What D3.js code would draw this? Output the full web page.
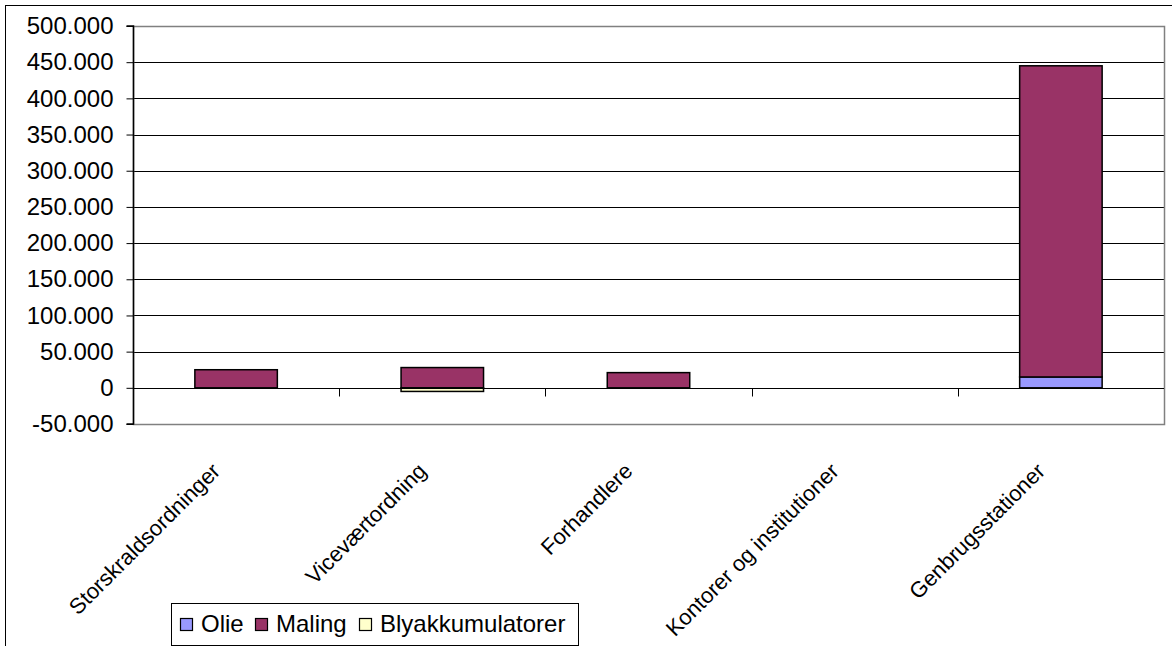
<!DOCTYPE html>
<html>
<head>
<meta charset="utf-8">
<script src="https://cdn.jsdelivr.net/npm/d3@7"></script>
<style>
  html, body { margin: 0; padding: 0; background: #fff; }
  svg { display: block; }
  text { font-family: "Liberation Sans", Arial, sans-serif; fill: #000; }
</style>
</head>
<body>
<svg id="chart" width="1172" height="646"></svg>
<script>
const categories = ["Storskraldsordninger", "Viceværtordning", "Forhandlere", "Kontorer og institutioner", "Genbrugsstationer"];
const seriesNames = ["Olie", "Maling", "Blyakkumulatorer"];
const olie = [0, 0, 0, 0, 15000];
const maling = [25000, 28000, 21000, 0, 430000];
const blyakkumulatorer = [0, -5000, 0, 0, 0];
const seriesColors = ["#9999FF", "#993366", "#FFFFCC"];
const yTicks = [-50000, 0, 50000, 100000, 150000, 200000, 250000, 300000, 350000, 400000, 450000, 500000];

const svg = d3.select("#chart");
const plot = { left: 133, right: 1164, top: 26, bottom: 424 };
const FS = 24;
const FS_CAT = 22;

// outer chart border
svg.append("rect").attr("x", 5.5).attr("y", 5.5).attr("width", 1200).attr("height", 700)
  .attr("fill", "#fff").attr("stroke", "#000").attr("stroke-width", 1);

const x = d3.scaleBand().domain(categories).range([plot.left, plot.right]).paddingInner(0.6).paddingOuter(0.3);
const xb = d3.scaleBand().domain(categories).range([plot.left, plot.right]);
const y = d3.scaleLinear().domain([-50000, 500000]).range([plot.bottom, plot.top]);

const fmt = v => v === 0 ? "0" : (v < 0 ? "-" : "") + d3.format(",")(Math.abs(v)).replace(/,/g, ".");

// gridlines
svg.append("g").selectAll("line").data(yTicks.filter(t => t !== -50000 && t !== 500000 && t !== 0)).join("line")
  .attr("x1", plot.left).attr("x2", plot.right)
  .attr("y1", d => Math.round(y(d)) + 0.5).attr("y2", d => Math.round(y(d)) + 0.5)
  .attr("stroke", "#000").attr("stroke-width", 1);

// plot area border (gray)
svg.append("rect").attr("x", plot.left + 0.5).attr("y", Math.round(y(500000)) + 0.5)
  .attr("width", plot.right - plot.left).attr("height", Math.round(y(-50000)) - Math.round(y(500000)))
  .attr("fill", "none").attr("stroke", "#808080").attr("stroke-width", 1.5);

// bars
const rows = categories.map((c, i) => ({ cat: c, Olie: olie[i], Maling: maling[i], Blyakkumulatorer: blyakkumulatorer[i] }));
const stack = d3.stack().keys(seriesNames).offset(d3.stackOffsetDiverging);
const stacked = stack(rows);
stacked.forEach((s, si) => {
  svg.append("g").selectAll("rect").data(s.filter(d => d[1] !== d[0])).join("rect")
    .attr("x", d => x(d.data.cat))
    .attr("width", x.bandwidth())
    .attr("y", d => y(Math.max(d[0], d[1])))
    .attr("height", d => Math.abs(y(d[0]) - y(d[1])))
    .attr("fill", seriesColors[si])
    .attr("stroke", "#000").attr("stroke-width", 1.5);
});

// y axis
const yAxis = d3.axisLeft(y).tickValues(yTicks).tickSize(7).tickPadding(13).tickFormat(fmt);
const gy = svg.append("g").attr("transform", `translate(${plot.left + 0.5},0)`).call(yAxis);
gy.select(".domain").attr("stroke", "#000").attr("stroke-width", 1.5).attr("d", `M-7,${y(500000)}H0V${y(-50000)}H-7`);
gy.selectAll(".tick line").attr("stroke", "#000");
gy.selectAll(".tick text").attr("font-size", FS).attr("font-family", "Liberation Sans, Arial, sans-serif").attr("fill", "#000");

// category axis at zero
const y0 = Math.round(y(0)) + 0.5;
svg.append("line").attr("x1", plot.left).attr("x2", plot.right).attr("y1", y0).attr("y2", y0)
  .attr("stroke", "#000").attr("stroke-width", 1);
const tickXs = categories.slice(1).map(c => Math.round(xb(c)) + 0.5);
svg.append("g").selectAll("line").data(tickXs).join("line")
  .attr("x1", d => d).attr("x2", d => d).attr("y1", y0).attr("y2", y0 + 8)
  .attr("stroke", "#000").attr("stroke-width", 1);

// category labels rotated -45
svg.append("g").selectAll("text").data(categories).join("text")
  .attr("transform", d => `translate(${xb(d) + xb.bandwidth() / 2 - 20},${467}) rotate(-45)`)
  .attr("text-anchor", "end").attr("dy", "0.35em")
  .attr("font-size", FS_CAT)
  .text(d => d);

// legend
const lg = svg.append("g");
lg.append("rect").attr("x", 171.5).attr("y", 603.5).attr("width", 407).attr("height", 42)
  .attr("fill", "#fff").attr("stroke", "#000").attr("stroke-width", 1);
const legendX = [180, 255, 359];
seriesNames.forEach((n, i) => {
  lg.append("rect").attr("x", legendX[i] + 0.5).attr("y", 618.5).attr("width", 12).attr("height", 12)
    .attr("fill", seriesColors[i]).attr("stroke", "#000").attr("stroke-width", 1.2);
  lg.append("text").attr("x", legendX[i] + 21).attr("y", 632).attr("font-size", FS).text(n);
});
</script>
</body>
</html>
